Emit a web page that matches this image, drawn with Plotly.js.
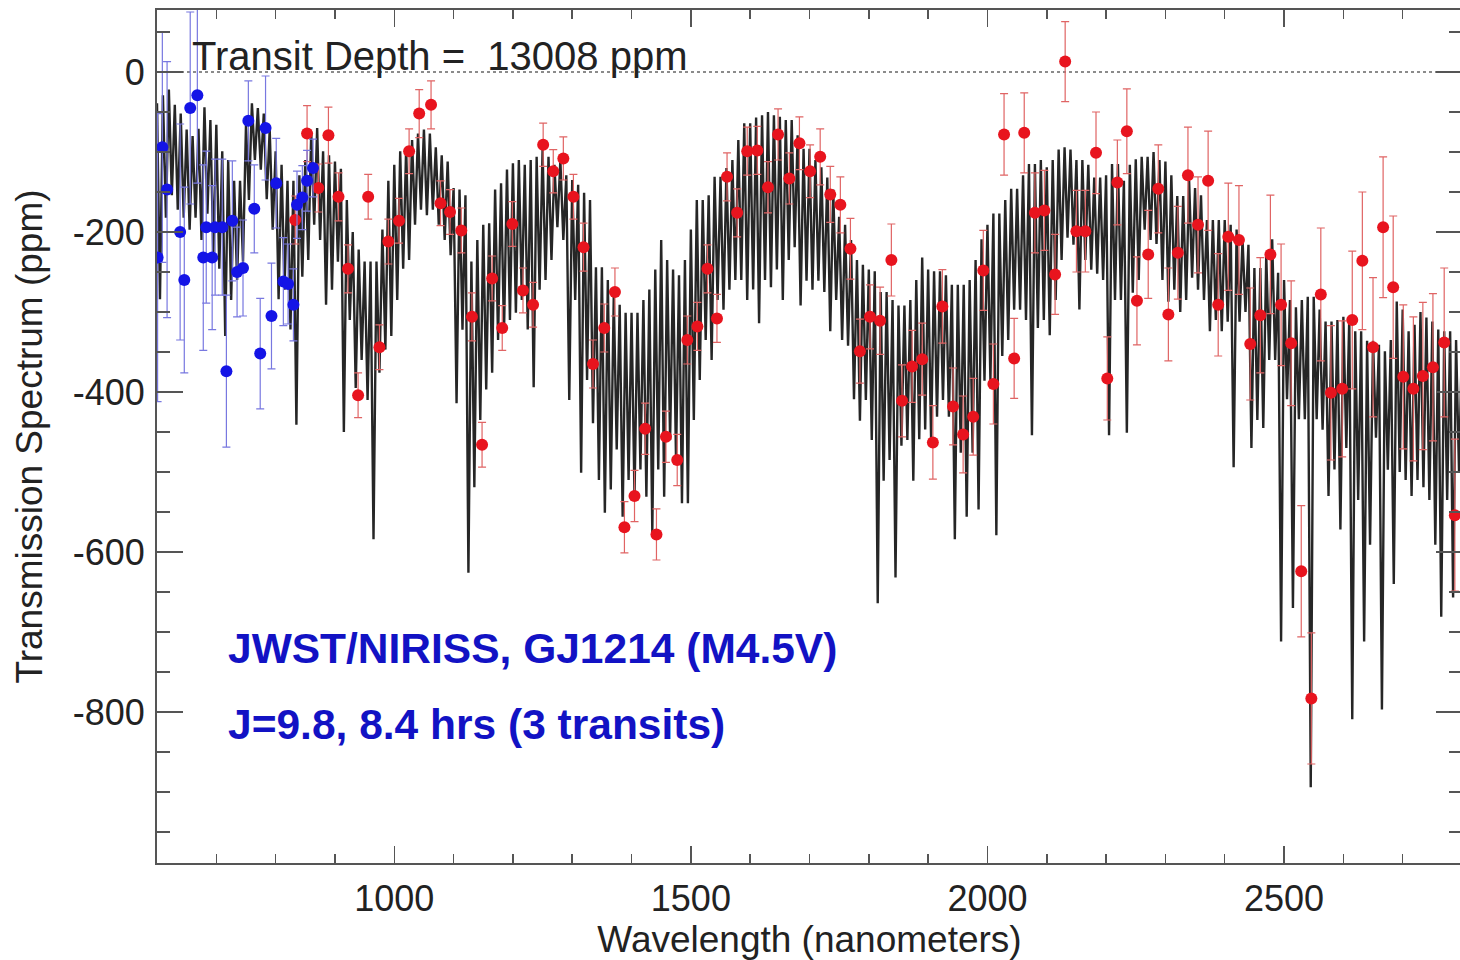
<!DOCTYPE html>
<html>
<head>
<meta charset="utf-8">
<script src="https://cdn.plot.ly/plotly-3.0.1.min.js"></script>
<style>
html,body{margin:0;padding:0;overflow:hidden;background:#fff;}
#chart{width:1463px;height:960px;}
</style>
</head>
<body>
<div id="chart"></div>
<script>
// ---- Model spectrum (upper edge / lower spike of the dense model band), 10 nm sampling from 600 nm
const modelStart = 600;
const modelStep = 10;
const modelHi = [
 -39,-29,-22,-41,-52,-72,-80,-71,-44,-60,
 -66,-99,-110,-136,-136,-66,-39,-45,-52,-72,
 -99,-116,-136,-136,-129,-110,-75,-70,-99,-104,
 -112,-121,-160,-200,-222,-237,-237,-237,-197,-136,
 -116,-99,-95,-85,-77,-72,-77,-94,-104,-112,
 -145,-147,-154,-237,-210,-191,-189,-147,-139,-122,
 -114,-110,-116,-110,-106,-97,-106,-116,-110,-129,
 -135,-141,-151,-160,-244,-244,-260,-281,-291,-301,
 -301,-301,-285,-272,-247,-210,-235,-247,-254,-235,
 -197,-160,-160,-154,-131,-131,-120,-110,-85,-64,
 -64,-57,-54,-50,-54,-56,-60,-60,-79,-96,
 -96,-110,-119,-132,-147,-181,-191,-210,-235,-241,
 -247,-249,-275,-275,-285,-292,-292,-285,-260,-232,
 -247,-249,-249,-254,-266,-266,-266,-260,-235,-209,
 -191,-177,-177,-160,-146,-146,-129,-115,-115,-110,
 -119,-110,-97,-94,-97,-110,-110,-116,-132,-132,
 -129,-115,-115,-136,-116,-109,-106,-106,-100,-110,
 -112,-129,-155,-155,-136,-145,-154,-185,-185,-185,
 -185,-191,-197,-209,-216,-245,-245,-229,-209,-251,
 -260,-285,-294,-285,-281,-281,-297,-312,-312,-310,
 -306,-306,-324,-324,-336,-336,-341,-349,-335,-287,
 -297,-324,-316,-300,-307,-312,-322,-324,-324,-335,
 -335
];
const modelLo = [
 -284,-182,-154,-172,-182,-197,-182,-210,-177,-229,
 -246,-330,-285,-260,-237,-160,-110,-122,-159,-197,
 -284,-272,-322,-441,-256,-235,-191,-210,-291,-272,
 -237,-450,-310,-395,-360,-410,-584,-376,-347,-330,
 -285,-246,-235,-191,-172,-179,-172,-191,-210,-229,
 -414,-322,-626,-519,-435,-397,-376,-335,-326,-310,
 -301,-285,-322,-394,-272,-260,-235,-194,-210,-410,
 -285,-501,-385,-439,-510,-551,-522,-472,-556,-510,
 -531,-497,-531,-576,-497,-531,-460,-485,-539,-539,
 -435,-385,-335,-360,-285,-297,-272,-260,-260,-285,
 -272,-314,-260,-269,-247,-285,-235,-219,-292,-261,
 -272,-261,-275,-324,-285,-335,-342,-409,-436,-410,
 -460,-664,-511,-485,-632,-467,-460,-511,-459,-447,
 -459,-431,-410,-431,-584,-476,-556,-476,-547,-386,
 -386,-579,-355,-335,-297,-297,-310,-454,-320,-310,
 -329,-285,-235,-207,-216,-297,-235,-247,-252,-260,
 -454,-285,-285,-451,-276,-260,-197,-210,-215,-260,
 -287,-272,-300,-285,-257,-272,-285,-324,-310,-324,
 -312,-494,-312,-300,-470,-435,-445,-360,-360,-712,
 -409,-670,-434,-434,-894,-434,-447,-530,-497,-572,
 -470,-809,-535,-712,-591,-457,-797,-497,-640,-500,
 -510,-530,-510,-519,-535,-591,-681,-535,-657,-500,
 -535
];

// ---- NIRISS order 1 binned points (red)
const redWave = [833,853,872,889,906,922,939,956,975,990,1008,1025,1042,1062,1078,1094,1113,1131,1148,1165,1182,1199,1217,1234,1251,1268,1285,1302,1319,1335,1354,1372,1388,1405,1423,1442,1458,1477,1494,1511,1528,1544,1561,1578,1595,1612,1630,1647,1666,1683,1701,1718,1735,1752,1769,1785,1802,1819,1838,1856,1873,1890,1908,1924,1942,1959,1976,1993,2010,2028,2045,2062,2080,2096,2114,2131,2150,2165,2183,2202,2219,2235,2252,2271,2288,2305,2321,2338,2355,2372,2389,2406,2424,2443,2460,2477,2495,2512,2529,2546,2562,2579,2598,2615,2632,2650,2667,2684,2701,2718,2734,2751,2770,2788];
const redDepth = [-185,-77,-145,-79,-156,-246,-404,-156,-344,-212,-186,-99,-52,-41,-164,-175,-198,-306,-466,-258,-320,-190,-273,-291,-91,-124,-108,-156,-219,-365,-320,-275,-569,-530,-446,-578,-456,-485,-335,-318,-246,-308,-131,-176,-99,-98,-144,-78,-133,-89,-124,-106,-153,-166,-221,-349,-306,-311,-235,-411,-368,-359,-463,-293,-418,-453,-431,-248,-390,-78,-358,-76,-176,-173,-253,13,-199,-199,-101,-383,-138,-74,-286,-228,-146,-303,-226,-129,-191,-136,-291,-206,-210,-340,-304,-228,-291,-339,-624,-783,-278,-401,-396,-310,-236,-344,-194,-269,-381,-396,-380,-369,-338,-554];
const redErr = [30,35,30,35,30,30,28,28,28,28,28,28,30,30,28,28,28,30,28,28,28,28,28,28,27,27,27,28,30,30,30,30,32,32,32,32,32,32,30,30,30,30,30,30,30,30,32,32,32,33,33,35,35,35,38,40,40,42,45,45,45,45,46,46,48,48,48,50,50,51,50,50,50,50,50,50,51,51,51,52,53,53,55,55,55,58,58,60,60,62,64,67,68,70,72,74,76,78,82,82,83,84,85,86,86,87,88,89,90,90,92,92,93,95];

// ---- NIRISS order 2 points (blue)
const blueWave = [601,609,617,639,646,656,668,678,683,693,698,710,717,727,735,745,754,764,774,783,793,801,813,821,830,836,845,853,863];
const blueDepth = [-232,-94,-147,-200,-260,-45,-29,-232,-194,-232,-194,-194,-374,-186,-250,-245,-61,-171,-352,-70,-305,-139,-262,-265,-291,-166,-157,-136,-120];
const blueErr = [180,144,160,135,116,120,110,116,95,90,85,85,95,75,56,60,50,55,69,65,66,56,55,50,45,42,40,38,36];

// ---- Axis ticks and labels
const xTickVals = [1000,1500,2000,2500];
const xTickText = ['1000','1500','2000','2500'];
const yTickVals = [0,-200,-400,-600,-800];
const yTickText = ['0','-200','-400','-600','-800'];

const transitText = 'Transit Depth =\u00a0 13008 ppm';
const label1 = 'JWST/NIRISS, GJ1214 (M4.5V)';
const label2 = 'J=9.8, 8.4 hrs (3 transits)';

// Model trace: upper edge and lower spike alternate along wavelength
const mx = [], my = [];
for (let i = 0; i < modelHi.length; i++) {
  const w = modelStart + i * modelStep;
  mx.push(w); my.push(modelHi[i]);
  mx.push(w + modelStep / 2); my.push(modelLo[i]);
}

const axisCol = '#555';
const fontFam = '"Liberation Sans", Arial, Helvetica, sans-serif';

const traces = [
  {x: mx, y: my, type: 'scatter', mode: 'lines', line: {color: 'rgba(0,0,0,0.85)', width: 2.4}, hoverinfo: 'skip'},
  {x: redWave, y: redDepth, type: 'scatter', mode: 'markers',
   marker: {color: '#e8141e', size: 12},
   error_y: {type: 'data', array: redErr, visible: true, color: '#e06464', thickness: 1.2, width: 4}},
  {x: blueWave, y: blueDepth, type: 'scatter', mode: 'markers',
   marker: {color: '#1414e6', size: 12},
   error_y: {type: 'data', array: blueErr, visible: true, color: '#7878e0', thickness: 1.2, width: 4}}
];

const layout = {
  width: 1463, height: 960,
  margin: {l: 157, r: 1, t: 10, b: 97},
  paper_bgcolor: '#fff', plot_bgcolor: '#fff',
  showlegend: false,
  font: {family: fontFam, color: '#222'},
  xaxis: {
    range: [600, 2800], showgrid: false, zeroline: false,
    showline: true, linecolor: axisCol, linewidth: 2, mirror: 'ticks',
    ticks: 'inside', ticklen: 17, tickwidth: 1.5, tickcolor: axisCol,
    tickmode: 'array', tickvals: xTickVals, ticktext: xTickText,
    tickfont: {size: 36, color: '#222'}, ticklabelstandoff: 3,
    minor: {tickmode: 'linear', tick0: 0, dtick: 100, ticks: 'inside', ticklen: 9, tickwidth: 1.5, tickcolor: axisCol},
    title: {text: 'Wavelength (nanometers)', font: {size: 37, color: '#222'}, standoff: 4}
  },
  yaxis: {
    range: [-988.75, 77.5], showgrid: false, zeroline: false,
    showline: true, linecolor: axisCol, linewidth: 2, mirror: 'ticks',
    ticks: 'inside', ticklen: 26, tickwidth: 1.5, tickcolor: axisCol,
    tickmode: 'array', tickvals: yTickVals, ticktext: yTickText,
    tickfont: {size: 36, color: '#222'}, ticklabelstandoff: 3,
    minor: {tickmode: 'linear', tick0: 0, dtick: 50, ticks: 'inside', ticklen: 13, tickwidth: 1.5, tickcolor: axisCol},
    title: {text: 'Transmission Spectrum (ppm)', font: {size: 37, color: '#222'}, standoff: 19}
  },
  shapes: [
    {type: 'line', xref: 'x', yref: 'y', x0: 600, x1: 2800, y0: 0, y1: 0, layer: 'below',
     line: {color: '#666', width: 1.5, dash: 'dot'}}
  ],
  annotations: [
    {x: 655, y: 0, xref: 'x', yref: 'y', xanchor: 'left', yanchor: 'bottom', yshift: -8,
     text: transitText, showarrow: false, font: {size: 40, color: '#222'}},
    {x: 717, y: -720, xref: 'x', yref: 'y', xanchor: 'left', yanchor: 'middle',
     text: '<b>' + label1 + '</b>', showarrow: false, font: {size: 42.5, color: '#1212c4'}},
    {x: 717, y: -816, xref: 'x', yref: 'y', xanchor: 'left', yanchor: 'middle',
     text: '<b>' + label2 + '</b>', showarrow: false, font: {size: 42.5, color: '#1212c4'}}
  ]
};

Plotly.newPlot('chart', traces, layout, {displayModeBar: false, staticPlot: true});
</script>
</body>
</html>
